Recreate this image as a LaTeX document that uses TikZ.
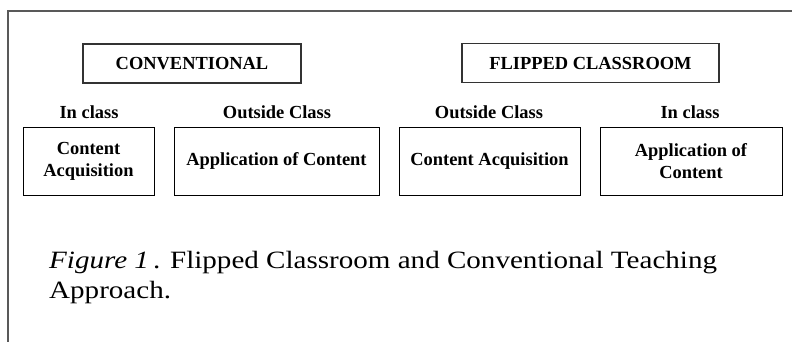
\documentclass[tikz,border=0pt]{standalone}
\usepackage{fontspec}
\setmainfont{Liberation Serif}
\newfontfamily\capfont[FakeStretch=1.167]{Liberation Serif}
\usetikzlibrary{positioning}

\begin{document}
\begin{tikzpicture}[x=1bp, y=-1bp,
    box/.style={draw, line width=0.9pt, inner sep=0pt, align=center, minimum height=68bp,
        font=\fontsize{18.5}{22}\selectfont\bfseries},
    head/.style={draw, line width=1.1pt, draw=black!80, inner sep=0pt, minimum height=39bp,
        font=\fontsize{18.5}{22}\selectfont\bfseries},
    lbl/.style={inner sep=0pt, anchor=base, font=\fontsize{18.5}{22}\selectfont\bfseries},
    captext/.style={inner sep=0pt, anchor=base west, font=\capfont\fontsize{25}{30}\selectfont}]
    \useasboundingbox (0,0) rectangle (792,341);

    % Frame
    \draw[black!65, line width=1.3pt] (8,350) -- (8,11) -- (800,11);

    % Conventional
    \node[head, minimum width=218bp] (conv) at (192,63.5) {CONVENTIONAL};
    \node[lbl] (in1) at (89,118) {In class};
    \node[lbl] (out1) at (277,118) {Outside Class};
    \node[box, minimum width=131bp] (acq1) at (88.5,161) {Content\\Acquisition};
    \node[box, minimum width=205bp] (app1) at (276.5,161) {Application of Content};

    % Flipped classroom
    \node[head, minimum width=257bp] (flip) at (590.5,63) {FLIPPED CLASSROOM};
    \node[lbl] (out2) at (489,118) {Outside Class};
    \node[lbl] (in2) at (690,118) {In class};
    \node[box, minimum width=181bp] (acq2) at (489.5,161) {Content Acquisition};
    \node[box, minimum width=182bp] (app2) at (691,161) {Application of\\Content};

    % Caption
    \node[captext] (cap1) at (49,268) {\textit{Figure 1}\,. Flipped Classroom and Conventional Teaching};
    \node[captext] (cap2) at (49,298) {Approach.};
\end{tikzpicture}
\end{document}
